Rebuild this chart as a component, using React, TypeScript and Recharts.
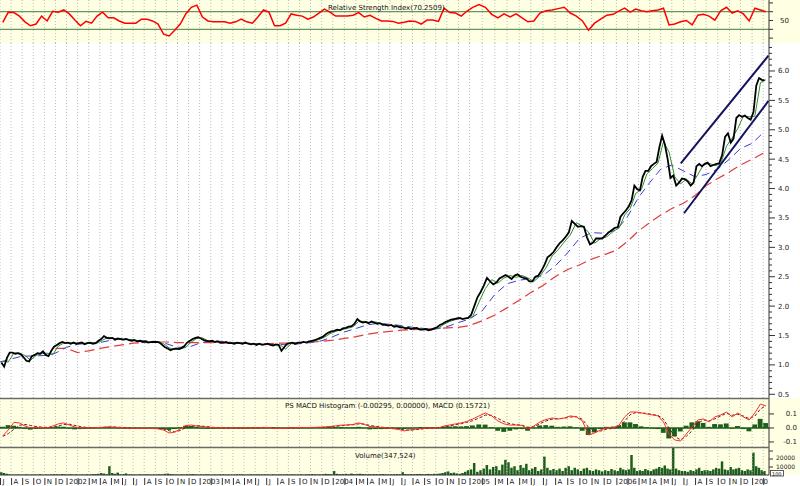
import React from "react";
import { ComposedChart, Line, Bar, XAxis, YAxis, ReferenceLine } from "recharts";

// ---- calendar: Jul 2001 .. Feb 2007, trading sessions per month ----
const monthLetters = ["J", "F", "M", "A", "M", "J", "J", "A", "S", "O", "N", "D"];
const tradingDays = [
  21, 21, 21, 21, 21, 21,
  21, 21, 21, 21, 21, 21, 21, 21, 21, 21, 21, 21,
  21, 21, 21, 21, 21, 21, 21, 21, 21, 21, 21, 21,
  22, 22, 21, 22, 21, 22, 21, 22, 22, 21, 22, 21,
  24, 24, 23, 23, 22, 23, 23, 23, 23, 23, 23, 24,
  21, 21, 21, 21, 21, 22, 22, 21, 22, 22, 21, 22,
  21, 20,
];

// weekly closes (4 per month)
const close2001 = [
  1.04, 0.97, 1.12, 1.21, 1.21, 1.19, 1.2, 1.18, 1.13, 1.07, 1.06, 1.15,
  1.17, 1.2, 1.19, 1.23, 1.17, 1.15, 1.24, 1.31, 1.34, 1.37, 1.39, 1.37,
];
const close2002 = [
  1.38, 1.36, 1.38, 1.36, 1.37, 1.38, 1.35, 1.37, 1.38, 1.36, 1.37, 1.41,
  1.44, 1.49, 1.46, 1.45, 1.46, 1.43, 1.45, 1.44, 1.43, 1.44, 1.42, 1.41,
  1.42, 1.4, 1.41, 1.39, 1.4, 1.38, 1.39, 1.39, 1.39, 1.38, 1.34, 1.3,
  1.28, 1.25, 1.27, 1.28, 1.27, 1.29, 1.32, 1.38, 1.41, 1.44, 1.46, 1.47,
];
const close2003 = [
  1.45, 1.42, 1.41, 1.4, 1.41, 1.39, 1.4, 1.38, 1.38, 1.39, 1.37, 1.37,
  1.36, 1.38, 1.37, 1.36, 1.38, 1.36, 1.35, 1.36, 1.34, 1.36, 1.34, 1.35,
  1.36, 1.34, 1.33, 1.35, 1.34, 1.24, 1.3, 1.36, 1.37, 1.38, 1.36, 1.38,
  1.38, 1.39, 1.38, 1.4, 1.41, 1.42, 1.44, 1.46, 1.48, 1.52, 1.55, 1.57,
];
const close2004 = [
  1.58, 1.6, 1.59, 1.62, 1.63, 1.65, 1.66, 1.7, 1.78, 1.74, 1.72, 1.73,
  1.71, 1.74, 1.72, 1.7, 1.71, 1.68, 1.68, 1.67, 1.68, 1.65, 1.66, 1.64,
  1.64, 1.62, 1.63, 1.61, 1.62, 1.63, 1.6, 1.6, 1.61, 1.59, 1.6, 1.62,
  1.64, 1.68, 1.7, 1.73, 1.75, 1.77, 1.78, 1.79, 1.8, 1.78, 1.79, 1.8,
];
const close2005 = [
  1.85, 2.0, 2.15, 2.24, 2.35, 2.48, 2.42, 2.37, 2.4, 2.47, 2.5, 2.53,
  2.5, 2.46, 2.52, 2.54, 2.5, 2.48, 2.47, 2.42, 2.42, 2.5, 2.52, 2.6,
  2.7, 2.83, 2.87, 2.92, 3.0, 3.07, 3.12, 3.18, 3.25, 3.45, 3.4, 3.35,
  3.36, 3.35, 3.17, 3.05, 3.08, 3.15, 3.15, 3.15, 3.2, 3.25, 3.29, 3.33,
];
const close2006 = [
  3.34, 3.52, 3.58, 3.63, 3.7, 3.8, 4.05, 3.99, 3.97, 4.2, 4.3, 4.3,
  4.38, 4.42, 4.45, 4.7, 4.9, 4.75, 4.5, 4.18, 4.22, 4.05, 4.1, 4.17,
  4.16, 4.12, 4.05, 4.1, 4.38, 4.42, 4.38, 4.42, 4.44, 4.38, 4.4, 4.42,
  4.43, 4.57, 4.88, 4.94, 4.78, 4.85, 5.2, 5.25, 5.22, 5.24, 5.2, 5.17,
];
const close2007 = [5.3, 5.75, 5.88, 5.85, 5.84];

// short average, half-monthly
const ma10 = [
  1.06, 1.05, 1.2, 1.2, 1.16, 1.08, 1.16, 1.19, 1.2, 1.17, 1.32, 1.37,
  1.38, 1.37, 1.37, 1.37, 1.37, 1.37, 1.42, 1.47, 1.45, 1.44, 1.44, 1.43, 1.42, 1.4, 1.39, 1.38, 1.39, 1.36, 1.29, 1.26, 1.27, 1.3, 1.39, 1.45,
  1.46, 1.41, 1.4, 1.39, 1.38, 1.38, 1.37, 1.37, 1.37, 1.36, 1.35, 1.35, 1.35, 1.34, 1.34, 1.27, 1.36, 1.37, 1.38, 1.39, 1.4, 1.43, 1.47, 1.53,
  1.57, 1.6, 1.62, 1.65, 1.74, 1.74, 1.72, 1.73, 1.7, 1.68, 1.67, 1.66, 1.64, 1.63, 1.62, 1.62, 1.6, 1.6, 1.63, 1.69, 1.74, 1.77, 1.79, 1.79,
  1.82, 2.07, 2.3, 2.45, 2.39, 2.48, 2.52, 2.49, 2.52, 2.48, 2.42, 2.51, 2.65, 2.85, 2.96, 3.09, 3.21, 3.42, 3.36, 3.26, 3.07, 3.15, 3.18, 3.27,
  3.33, 3.55, 3.66, 3.92, 3.98, 4.25, 4.34, 4.43, 4.8, 4.62, 4.2, 4.08, 4.16, 4.08, 4.24, 4.4, 4.43, 4.39, 4.42, 4.72, 4.86, 5.02, 5.23, 5.22,
  5.23, 5.8, 5.85,
];

// monthly moving averages (value at each month start)
const ma50 = [
  1.05, 1.1, 1.15, 1.15, 1.16, 1.2, 1.3, 1.35, 1.37, 1.38, 1.42, 1.44, 1.43, 1.41, 1.4, 1.36, 1.3, 1.3,
  1.37, 1.41, 1.4, 1.38, 1.37, 1.36, 1.35, 1.35, 1.34, 1.36, 1.38, 1.41,
  1.48, 1.56, 1.62, 1.68, 1.71, 1.69, 1.67, 1.64, 1.62, 1.61, 1.65, 1.72,
  1.78, 1.92, 2.2, 2.38, 2.44, 2.47, 2.52, 2.68, 2.9, 3.15, 3.25, 3.24,
  3.29, 3.52, 3.85, 4.1, 4.33, 4.4, 4.3, 4.2, 4.24, 4.33, 4.5, 4.68,
  4.77, 4.95,
];
const ma200 = [
  null, null, null, null, null, 1.28, 1.28, 1.21, 1.24, 1.28, 1.31, 1.34, 1.37, 1.38, 1.39, 1.39, 1.38, 1.38,
  1.38, 1.38, 1.37, 1.37, 1.37, 1.36, 1.36, 1.37, 1.37, 1.38, 1.39, 1.4,
  1.42, 1.45, 1.48, 1.52, 1.55, 1.57, 1.59, 1.6, 1.61, 1.62, 1.63, 1.64,
  1.67, 1.75, 1.85, 1.97, 2.1, 2.23, 2.35, 2.5, 2.62, 2.7, 2.8, 2.87,
  2.95, 3.1, 3.28, 3.42, 3.55, 3.66, 3.75, 3.88, 4.05, 4.17, 4.28, 4.4,
  4.5, 4.6,
];

// trend channel drawn on the chart: [month position, value]
const channelUpper = [[59.77, 4.43], [67.5, 6.26]];
const channelLower = [[60.05, 3.58], [67.5, 5.49]];

// half-monthly indicator readings
const rsi = [
  46, 69, 68, 60, 47, 38, 42, 60, 49, 71, 69, 74,
  65, 51, 38, 48, 44, 60, 69, 56, 56, 49, 44, 44, 44, 53, 53, 49, 42, 19, 15, 28, 42, 65, 80, 85,
  58, 49, 47, 47, 47, 44, 47, 53, 47, 44, 58, 74, 69, 38, 38, 44, 65, 62, 60, 53, 58, 67, 76, 69,
  60, 60, 60, 62, 68, 58, 62, 55, 49, 49, 48, 44, 46, 49, 48, 42, 51, 51, 48, 78, 68, 67, 60, 71,
  80, 86, 80, 64, 56, 65, 58, 65, 56, 47, 49, 67, 72, 74, 77, 80, 67, 60, 49, 28, 44, 53, 62, 64,
  72, 78, 69, 76, 72, 70, 72, 74, 78, 40, 42, 47, 50, 40, 62, 64, 60, 51, 72, 80, 67, 72, 65, 49,
  78, 74, 70,
];
const macd = [
  -0.057, -0.014, 0.04, 0.036, 0.014, 0, 0.004, 0.003, 0, 0.014, 0.029, 0.036,
  0.021, 0.007, 0, 0, 0.001, 0.002, 0.005, 0.008, 0.006, 0.003, 0, -0.002, -0.003, -0.003, -0.002, -0.004, -0.006, -0.015, -0.036, -0.029, -0.007, 0.018, 0.021, 0.014,
  0.01, 0.005, 0.002, 0, 0, -0.002, 0, 0.001, 0, -0.001, 0.001, 0.004, 0.003, -0.002, -0.004, -0.003, 0.001, 0.003, 0.003, 0.003, 0.004, 0.005, 0.007, 0.01,
  0.015, 0.02, 0.022, 0.025, 0.036, 0.025, 0.01, 0.008, 0.003, 0, -0.005, -0.01, -0.021, -0.014, -0.01, -0.005, 0, 0, 0, 0.014, 0.021, 0.029, 0.036, 0.046,
  0.064, 0.086, 0.107, 0.086, 0.05, 0.029, 0.021, 0.021, 0.018, -0.007, 0.014, 0.043, 0.06, 0.071, 0.064, 0.071, 0.086, 0.079, 0.05, -0.05, -0.036, -0.014, 0, 0,
  0.021, 0.079, 0.114, 0.114, 0.107, 0.1, 0.093, 0.086, 0.043, -0.043, -0.086, -0.093, -0.043, 0.007, 0.057, 0.064, 0.043, 0.079, 0.093, 0.114, 0.079, 0.107, 0.079, 0.057,
  0.107, 0.171, 0.157,
];
const macdSignal = [
  -0.06, -0.04, -0.01, 0.02, 0.025, 0.018, 0.01, 0.006, 0.004, 0.006, 0.014, 0.025,
  0.027, 0.018, 0.01, 0.004, 0.002, 0.002, 0.003, 0.006, 0.007, 0.005, 0.002, 0, -0.002, -0.003, -0.003, -0.003, -0.004, -0.008, -0.02, -0.028, -0.018, 0.002, 0.012, 0.016,
  0.013, 0.009, 0.004, 0.001, 0, -0.001, -0.001, 0, 0, 0, 0, 0.002, 0.003, 0.001, -0.002, -0.003, -0.001, 0.001, 0.002, 0.003, 0.003, 0.004, 0.005, 0.008,
  0.011, 0.016, 0.02, 0.023, 0.029, 0.028, 0.018, 0.012, 0.006, 0.002, -0.002, -0.007, -0.014, -0.016, -0.012, -0.008, -0.003, 0, 0, 0.006, 0.014, 0.023, 0.03, 0.04,
  0.052, 0.071, 0.092, 0.09, 0.068, 0.045, 0.03, 0.023, 0.02, 0.005, 0.008, 0.03, 0.05, 0.063, 0.066, 0.069, 0.078, 0.08, 0.062, 0.005, -0.02, -0.022, -0.008, -0.003,
  0.008, 0.05, 0.095, 0.11, 0.108, 0.103, 0.096, 0.09, 0.062, 0, -0.06, -0.085, -0.06, -0.02, 0.03, 0.058, 0.05, 0.065, 0.085, 0.105, 0.09, 0.098, 0.085, 0.066,
  0.085, 0.135, 0.16,
];
const macdHist = [
  0.008, 0.02, 0.016, 0.008, -0.006, -0.012, -0.006, -0.004, -0.003, 0.005, 0.01, 0.008,
  -0.004, -0.01, -0.008, -0.005, -0.003, 0.002, 0.003, 0.004, 0.002, -0.002, -0.003, -0.003, -0.003, -0.002, -0.001, -0.002, -0.003, -0.008, -0.014, -0.008, 0.006, 0.016, 0.014, 0.008,
  -0.004, -0.006, -0.005, -0.003, -0.002, 0.002, 0.002, -0.002, -0.002, 0.001, 0.003, 0.005, 0.002, -0.003, -0.005, -0.002, 0.003, 0.003, 0.002, 0.003, 0.003, 0.004, 0.005, 0.005,
  0.006, 0.007, 0.004, 0.005, 0.008, 0.002, -0.01, -0.008, -0.008, -0.007, -0.006, -0.007, -0.008, -0.004, 0.002, 0.007, 0.007, 0.005, 0.004, 0.01, 0.01, 0.012, 0.011, 0.013,
  0.018, 0.025, 0.024, 0.005, -0.02, -0.028, -0.02, -0.01, -0.008, -0.02, 0.002, 0.018, 0.02, 0.016, 0.008, 0.01, 0.012, 0.005, -0.02, -0.05, -0.032, -0.008, 0.008, 0.01,
  0.018, 0.04, 0.04, 0.028, 0.012, 0.006, -0.005, -0.008, -0.035, -0.075, -0.06, -0.025, 0.016, 0.04, 0.048, 0.036, 0.008, 0.028, 0.026, 0.032, -0.004, 0.014, -0.008, -0.024,
  0.025, 0.065, 0.035,
];

// weekly volume
const vol2001 = [3500, 2500, 1500, 800, 600, 400, 700, 500, 500, 800, 400, 600, 700, 500, 900, 400, 600, 500, 700, 1000, 800, 600, 1200, 900];
const vol2002 = [
  700, 900, 600, 800, 500, 700, 600, 900, 800, 1000, 1200, 1500, 2500, 1800, 1000, 11000, 2500, 1500, 3000, 800, 1200, 2000, 600, 900,
  700, 500, 800, 600, 900, 700, 500, 800, 600, 900, 700, 1500, 1800, 1200, 900, 700, 600, 800, 700, 1000, 900, 1200, 800, 600,
];
const vol2003 = [
  800, 600, 900, 700, 500, 700, 600, 800, 900, 600, 700, 500, 600, 800, 700, 900, 500, 600, 800, 700, 900, 700, 600, 800,
  700, 500, 900, 600, 800, 700, 600, 900, 700, 800, 600, 700, 900, 600, 800, 1000, 1200, 900, 700, 800, 1000, 1500, 1200, 900,
];
const vol2004 = [
  5000, 1500, 1000, 1200, 1500, 1000, 1800, 1200, 1400, 1600, 1200, 1000, 1200, 900, 1100, 1000, 1100, 1200, 900, 800, 900, 1000, 1200, 1000,
  3500, 1200, 900, 1100, 1000, 1200, 1300, 1100, 1200, 1400, 1000, 1500, 1500, 1800, 2500, 3500, 4500, 2500, 3000, 2000, 1500, 2500, 4000, 6000,
];
const vol2005 = [
  7000, 15000, 4000, 6000, 8000, 12500, 7000, 10000, 11000, 6000, 13000, 19000, 16000, 9000, 11000, 6000, 12500, 9000, 14000, 6000, 8000, 10000, 5000, 7000,
  23000, 9000, 6000, 7500, 6000, 8000, 5000, 9000, 11000, 6000, 9000, 7000, 5000, 8000, 9000, 6000, 5000, 7000, 6000, 4500, 6000, 5000, 7500, 6000,
];
const vol2006 = [
  5000, 9000, 7000, 6000, 7000, 25000, 9000, 5000, 6000, 5000, 7500, 6000, 5000, 7000, 8000, 10000, 9000, 12000, 8000, 7000, 35000, 8000, 6000, 5000,
  5000, 4000, 6000, 5000, 7000, 9000, 5000, 6000, 6000, 5000, 7000, 9000, 8000, 17000, 7000, 6000, 10000, 7000, 8000, 9000, 6000, 5000, 7000, 6000,
];
const vol2007 = [28000, 11000, 9000, 6000, 5000];

// ---- derived helpers ----
const monthStarts: number[] = [];
{
  let s = 0;
  tradingDays.forEach((d) => {
    monthStarts.push(s);
    s += d;
  });
}
const X_MAX = monthStarts[monthStarts.length - 1] + 11;

function toX(t: number) {
  const m = Math.min(Math.floor(t), tradingDays.length - 1);
  return monthStarts[m] + (t - m) * tradingDays[m];
}

function monthLabel(m: number) {
  const cal = (6 + m) % 12;
  const year = 2001 + Math.floor((6 + m) / 12);
  if (cal === 0) return String(year);
  if (cal === 1) return "";
  return monthLetters[cal];
}

const weekX = (i: number) => toX(Math.floor(i / 4) + ((i % 4) + 0.5) / 4);
const halfX = (i: number) => toX(Math.floor(i / 2) + (i % 2) * 0.5 + 0.25);

const closes = [...close2001, ...close2002, ...close2003, ...close2004, ...close2005, ...close2006, ...close2007];
const volumes = [...vol2001, ...vol2002, ...vol2003, ...vol2004, ...vol2005, ...vol2006, ...vol2007];

const priceData = closes.map((v, i) => ({ x: weekX(i), v }));
const volumeData = volumes.map((v, i) => ({ x: weekX(i), v }));
const ma10Data = ma10.map((v, i) => ({ x: halfX(i), v }));
const ma50Data = ma50.map((v, m) => ({ x: monthStarts[m], v }));
const ma200Data = ma200
  .map((v, m) => ({ x: monthStarts[m], v }))
  .filter((d) => d.v !== null);
const rsiData = rsi.map((v, i) => ({ x: halfX(i), v }));
const macdData = macd.map((v, i) => ({
  x: halfX(i),
  macd: v,
  signal: macdSignal[i],
  hist: macdHist[i],
}));

const YELLOW = "#FFFFE4";
const FONT = "DejaVu Sans";
const AXIS = "#333333";
const GRID = "#bcbcbc";
const DARK_GREEN = "#1c5e1c";
const margin = { top: 0, right: 0, bottom: 0, left: 0 };

const gridLines = (prefix: string) =>
  monthStarts.map((s, i) => (
    <ReferenceLine key={prefix + i} x={s} stroke={GRID} strokeDasharray="1 2" ifOverflow="hidden" />
  ));

const xAxisHidden = <XAxis type="number" dataKey="x" domain={[0, X_MAX]} allowDataOverflow hide />;

function rightTick(opts: {
  len: (v: number) => number;
  label: (v: number) => string;
  dx: number;
  dy?: (v: number) => number;
  size?: number;
  anchor?: string;
}) {
  return (props: any) => {
    const { x, y, payload } = props;
    const v = payload.value;
    const text = opts.label(v);
    const dy = opts.dy ? opts.dy(v) : 0;
    return (
      <g>
        <line x1={x} x2={x + opts.len(v)} y1={y} y2={y} stroke={AXIS} />
        {text ? (
          <text
            x={x + opts.dx}
            y={y + 2.5 + dy}
            fontSize={opts.size || 7}
            fontFamily={FONT}
            fill="#222"
            textAnchor={opts.anchor || "start"}
          >
            {text}
          </text>
        ) : null}
      </g>
    );
  };
}

const priceTicks: number[] = [];
for (let i = 5; i <= 64; i++) priceTicks.push(i / 10);

const MonthTick = (props: any) => {
  const { x, y, payload } = props;
  const m = monthStarts.indexOf(payload.value);
  const label = monthLabel(m);
  return (
    <g>
      <line x1={x + 0.5} x2={x + 0.5} y1={y + 3} y2={y + 10} stroke={AXIS} />
      {label ? (
        <text x={x + 2.5} y={y + 9} fontSize={7} fontFamily={FONT} fill="#222" clipPath="url(#xclip)">
          {label}
        </text>
      ) : null}
    </g>
  );
};

export default function App() {
  return (
    <div style={{ position: "absolute", left: 0, top: 0, width: 800, height: 486, background: "#fff", overflow: "hidden", fontFamily: FONT }}>
      {/* RSI */}
      <div style={{ position: "absolute", left: 0, top: 0, width: 800, height: 43, background: YELLOW }}>
        <ComposedChart width={800} height={43} margin={margin} data={rsiData}>
          {xAxisHidden}
          <YAxis
            orientation="right"
            width={31}
            domain={[-1.1, 96.6]}
            ticks={[10, 30, 50, 70, 90]}
            interval={0}
            tickSize={0}
            tickMargin={0}
            axisLine={{ stroke: AXIS }}
            tickLine={false}
            tick={rightTick({ len: () => 4, label: (v) => (v === 50 ? "50" : ""), dx: 11 })}
          />
          {gridLines("r")}
          <ReferenceLine y={70} stroke="#3f7d3f" />
          <ReferenceLine y={30} stroke="#3f7d3f" />
          <Line dataKey="v" stroke="#ff0000" strokeWidth={1.5} dot={false} activeDot={false} isAnimationActive={false} />
        </ComposedChart>
      </div>

      {/* price */}
      <div style={{ position: "absolute", left: 0, top: 43, width: 800, height: 355 }}>
        <ComposedChart width={800} height={355} margin={margin}>
          {xAxisHidden}
          <YAxis
            orientation="right"
            width={31}
            type="number"
            domain={[0.437, 6.476]}
            allowDataOverflow
            ticks={priceTicks}
            interval={0}
            tickSize={0}
            tickMargin={0}
            axisLine={{ stroke: AXIS }}
            tickLine={false}
            tick={rightTick({
              len: (v) => (Math.round(v * 10) % 5 === 0 ? 6 : 3),
              label: (v) => (Math.round(v * 10) % 5 === 0 ? v.toFixed(1) : ""),
              dx: 9,
            })}
          />
          {gridLines("p")}
          <Line data={ma200Data} dataKey="v" stroke="#e23c3c" strokeWidth={1.2} strokeDasharray="10 5" dot={false} activeDot={false} isAnimationActive={false} />
          <Line data={ma50Data} dataKey="v" stroke="#3c3cd2" strokeWidth={1} strokeDasharray="8 5" dot={false} activeDot={false} isAnimationActive={false} />
          <Line data={ma10Data} dataKey="v" stroke="#2f8f2f" strokeWidth={1} dot={false} activeDot={false} isAnimationActive={false} />
          <Line data={priceData} dataKey="v" stroke="#000000" strokeWidth={1.8} dot={false} activeDot={false} isAnimationActive={false} />
          <ReferenceLine
            segment={channelUpper.map(([t, v]) => ({ x: toX(t), y: v }))}
            stroke="#12125e"
            strokeWidth={2}
            ifOverflow="visible"
          />
          <ReferenceLine
            segment={channelLower.map(([t, v]) => ({ x: toX(t), y: v }))}
            stroke="#12125e"
            strokeWidth={2}
            ifOverflow="visible"
          />
        </ComposedChart>
      </div>

      {/* MACD */}
      <div style={{ position: "absolute", left: 0, top: 398, width: 800, height: 49, background: YELLOW }}>
        <ComposedChart width={800} height={49} margin={margin} data={macdData}>
          {xAxisHidden}
          <YAxis
            orientation="right"
            width={31}
            domain={[-0.136, 0.214]}
            allowDataOverflow
            ticks={[-0.1, 0, 0.1]}
            interval={0}
            tickSize={0}
            tickMargin={0}
            axisLine={{ stroke: AXIS }}
            tickLine={false}
            tick={rightTick({ len: () => 5, label: (v) => v.toFixed(1), dx: 28, anchor: "end" })}
          />
          {gridLines("m")}
          <ReferenceLine y={0} stroke={DARK_GREEN} strokeWidth={1.5} />
          <Bar dataKey="hist" fill={DARK_GREEN} barSize={6} isAnimationActive={false} />
          <Line dataKey="signal" stroke="#6e1c1c" strokeWidth={1} strokeDasharray="3 2" dot={false} activeDot={false} isAnimationActive={false} />
          <Line dataKey="macd" stroke="#ff2a2a" strokeWidth={1} dot={false} activeDot={false} isAnimationActive={false} />
        </ComposedChart>
      </div>

      {/* volume + month axis */}
      <div style={{ position: "absolute", left: 0, top: 447, width: 800, height: 28, background: YELLOW }} />
      <div style={{ position: "absolute", left: 0, top: 447, width: 800, height: 39 }}>
        <ComposedChart width={800} height={39} margin={margin} data={volumeData}>
          <XAxis
            type="number"
            dataKey="x"
            domain={[0, X_MAX]}
            allowDataOverflow
            ticks={monthStarts}
            interval={0}
            height={11}
            tickSize={0}
            tickMargin={0}
            axisLine={{ stroke: AXIS }}
            tickLine={false}
            tick={<MonthTick />}
          />
          <YAxis
            orientation="right"
            width={31}
            domain={[0, 35000]}
            allowDataOverflow
            ticks={[10000, 20000, 30000]}
            interval={0}
            tickSize={0}
            tickMargin={0}
            axisLine={{ stroke: AXIS }}
            tickLine={false}
            tick={rightTick({
              len: () => 4,
              label: (v) => (v === 30000 ? "" : String(v)),
              dx: 7,
              size: 6,
              dy: (v) => (v === 10000 ? -1 : -1.5),
            })}
          />
          {gridLines("v")}
          <Bar dataKey="v" fill={DARK_GREEN} barSize={2.5} isAnimationActive={false} />
        </ComposedChart>
      </div>

      {/* titles, separators */}
      <svg width={800} height={486} style={{ position: "absolute", left: 0, top: 0, pointerEvents: "none" }}>
        <defs>
          <clipPath id="xclip">
            <rect x={0} y={0} width={768} height={486} />
          </clipPath>
        </defs>
        <line x1={0} x2={769} y1={398.5} y2={398.5} stroke="#6a6a6a" strokeWidth={1.5} />
        <line x1={0} x2={769} y1={447.5} y2={447.5} stroke="#6a6a6a" strokeWidth={1.5} />
        <text x={328} y={9.5} fontSize={7} fontFamily={FONT} fill="#111">
          Relative Strength Index(70.2509)
        </text>
        <text x={285} y={408} fontSize={7} fontFamily={FONT} fill="#111">
          PS MACD Histogram (-0.00295, 0.00000), MACD (0.15721)
        </text>
        <text x={355} y={457.5} fontSize={7} fontFamily={FONT} fill="#111">
          Volume(347,524)
        </text>
        <rect x={770.5} y={470.5} width={13} height={5.5} fill="#fff" stroke="#333" strokeWidth={0.8} />
        <text x={772} y={475.5} fontSize={5} fontFamily={FONT} fill="#111">
          100
        </text>
      </svg>
    </div>
  );
}
